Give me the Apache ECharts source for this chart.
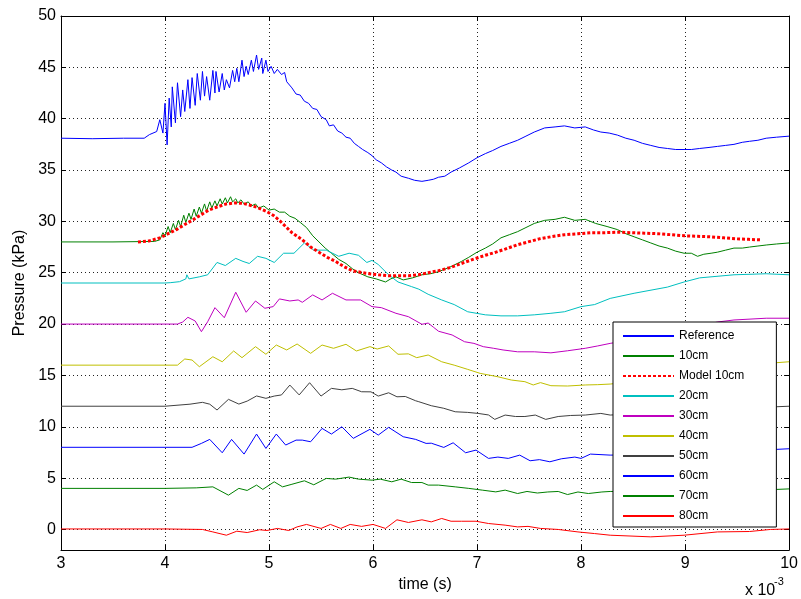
<!DOCTYPE html>
<html>
<head>
    <meta charset="utf-8" />
    <title>Pressure</title>
    <style>
        html, body { margin: 0; padding: 0; background: #fff; }
        #chart { width: 801px; height: 599px; }
    </style>
</head>
<body>
    <div id="chart"></div>
    <script src="https://cdn.jsdelivr.net/npm/echarts@6/dist/echarts.min.js"></script>
    <script>
        // time in units of 1e-3 s, pressure in kPa
        var refData = [[3.0,38.1],[3.3,38.05],[3.6,38.1],[3.8,38.1],[3.85,38.45],[3.92,38.75],[3.95,39.9],[3.98,38.6],[4.00,41.5],[4.02,37.45],[4.04,42.0],[4.06,39.2],[4.07,43.1],[4.10,39.6],[4.12,43.5],[4.15,40.2],[4.17,42.8],[4.19,40.7],[4.22,43.8],[4.24,41.0],[4.26,44.0],[4.29,41.3],[4.31,44.4],[4.34,41.8],[4.36,44.6],[4.38,42.2],[4.40,44.1],[4.43,41.8],[4.46,44.7],[4.48,42.5],[4.49,44.6],[4.52,42.6],[4.55,44.4],[4.57,42.8],[4.59,43.8],[4.62,43.0],[4.65,44.7],[4.67,43.6],[4.69,44.9],[4.71,43.6],[4.74,45.7],[4.76,44.1],[4.78,45.1],[4.80,44.3],[4.83,45.7],[4.85,44.6],[4.88,46.2],[4.90,44.8],[4.93,45.9],[4.94,44.4],[4.97,45.7],[4.99,44.6],[5.02,45.1],[5.05,44.4],[5.08,44.8],[5.12,44.3],[5.15,44.5],[5.17,43.6],[5.22,43.0],[5.26,42.4],[5.30,42.3],[5.34,41.7],[5.38,41.5],[5.42,41.0],[5.46,40.9],[5.50,40.2],[5.55,39.9],[5.58,39.3],[5.62,39.4],[5.66,38.8],[5.70,38.6],[5.74,38.2],[5.78,38.1],[5.82,37.6],[5.86,37.3],[5.90,37.0],[5.95,36.7],[5.99,36.4],[6.03,36.0],[6.08,35.7],[6.13,35.3],[6.18,35.0],[6.22,34.8],[6.27,34.4],[6.34,34.2],[6.40,34.0],[6.47,33.9],[6.53,34.0],[6.58,34.1],[6.63,34.3],[6.69,34.4],[6.75,34.8],[6.83,35.2],[6.92,35.7],[7.0,36.2],[7.08,36.6],[7.15,36.9],[7.23,37.3],[7.31,37.6],[7.39,37.9],[7.47,38.3],[7.55,38.7],[7.65,39.1],[7.75,39.2],[7.84,39.3],[7.94,39.1],[8.04,39.2],[8.12,38.9],[8.19,38.7],[8.27,38.6],[8.35,38.4],[8.43,38.1],[8.51,37.9],[8.59,37.6],[8.67,37.4],[8.75,37.2],[8.83,37.1],[8.91,37.0],[8.99,37.0],[9.06,37.0],[9.14,37.1],[9.23,37.2],[9.31,37.3],[9.39,37.4],[9.47,37.5],[9.55,37.7],[9.62,37.8],[9.70,37.9],[9.78,38.1],[9.88,38.2],[10.0,38.3]];

        var cm10Data = [[3.0,28.0],[3.5,28.0],[3.9,28.05],[3.95,28.2],[3.98,28.9],[4.00,28.6],[4.03,29.5],[4.05,28.9],[4.08,29.8],[4.10,29.2],[4.13,30.1],[4.15,29.5],[4.18,30.6],[4.20,29.9],[4.23,30.8],[4.25,30.2],[4.28,31.2],[4.30,30.5],[4.33,31.4],[4.35,30.8],[4.38,31.7],[4.40,31.0],[4.43,31.9],[4.45,31.3],[4.48,32.0],[4.50,31.5],[4.53,32.2],[4.55,31.7],[4.58,32.3],[4.60,31.8],[4.63,32.4],[4.65,31.9],[4.68,32.2],[4.70,31.8],[4.73,32.1],[4.76,31.7],[4.80,31.9],[4.83,31.5],[4.87,31.7],[4.90,31.3],[4.95,31.5],[5.00,31.1],[5.05,31.2],[5.10,30.9],[5.15,30.9],[5.20,30.5],[5.25,30.3],[5.30,29.9],[5.36,29.4],[5.42,28.6],[5.48,28.0],[5.54,27.4],[5.60,26.9],[5.67,26.3],[5.74,25.9],[5.80,25.4],[5.86,25.0],[5.95,24.6],[6.03,24.4],[6.12,24.1],[6.17,24.4],[6.22,24.6],[6.29,24.3],[6.38,24.5],[6.47,24.8],[6.55,24.9],[6.63,25.1],[6.75,25.6],[6.85,26.1],[6.92,26.5],[7.0,27.0],[7.08,27.4],[7.15,27.8],[7.23,28.4],[7.31,28.7],[7.39,29.0],[7.47,29.4],[7.55,29.8],[7.65,30.1],[7.75,30.2],[7.84,30.4],[7.94,30.1],[8.04,30.2],[8.14,29.8],[8.25,29.5],[8.35,29.2],[8.43,28.8],[8.51,28.5],[8.59,28.2],[8.67,27.9],[8.75,27.6],[8.83,27.4],[8.91,27.1],[8.99,26.9],[9.06,26.9],[9.12,26.6],[9.18,26.8],[9.25,26.9],[9.31,27.0],[9.39,27.2],[9.47,27.4],[9.55,27.4],[9.62,27.5],[9.70,27.6],[9.78,27.7],[9.88,27.8],[10.0,27.9]];

        var model10Data = [[3.74,28.0],[3.85,28.1],[3.95,28.4],[4.03,28.8],[4.11,29.2],[4.19,29.7],[4.26,30.1],[4.34,30.6],[4.42,31.1],[4.50,31.4],[4.59,31.7],[4.68,31.8],[4.75,31.75],[4.81,31.6],[4.89,31.35],[4.97,31.0],[5.04,30.6],[5.10,30.1],[5.16,29.5],[5.22,28.9],[5.32,28.2],[5.40,27.5],[5.48,27.0],[5.56,26.5],[5.64,26.1],[5.72,25.6],[5.80,25.2],[5.93,24.95],[6.05,24.8],[6.15,24.7],[6.24,24.7],[6.34,24.7],[6.44,24.8],[6.53,25.0],[6.63,25.2],[6.74,25.5],[6.85,25.9],[6.96,26.3],[7.08,26.7],[7.18,27.0],[7.27,27.3],[7.38,27.7],[7.49,28.0],[7.60,28.3],[7.71,28.5],[7.84,28.7],[7.97,28.8],[8.10,28.9],[8.23,28.9],[8.36,28.95],[8.48,28.9],[8.61,28.85],[8.74,28.8],[8.87,28.7],[8.99,28.6],[9.12,28.55],[9.24,28.5],[9.37,28.4],[9.50,28.3],[9.61,28.25],[9.72,28.2]];

        var cm20Data = [[3.0,24.0],[3.5,24.0],[4.0,24.0],[4.05,24.03],[4.14,24.13],[4.20,24.4],[4.21,24.8],[4.23,24.4],[4.33,24.6],[4.41,24.8],[4.50,26.0],[4.58,25.7],[4.68,26.4],[4.75,26.1],[4.81,25.9],[4.89,26.6],[4.97,26.4],[5.05,26.0],[5.14,26.9],[5.24,26.9],[5.34,27.9],[5.43,27.2],[5.55,27.2],[5.67,26.6],[5.77,26.9],[5.86,26.7],[5.94,26.0],[5.99,26.2],[6.05,25.8],[6.15,24.8],[6.24,24.1],[6.37,23.65],[6.44,23.4],[6.53,22.9],[6.66,22.35],[6.78,21.9],[6.91,21.2],[7.08,20.9],[7.23,20.8],[7.39,20.8],[7.55,20.9],[7.71,21.05],[7.84,21.2],[8.0,21.7],[8.13,21.9],[8.28,22.5],[8.51,23.0],[8.83,23.6],[8.99,24.1],[9.14,24.5],[9.47,24.8],[9.78,24.9],[10.0,24.8]];

        var cm30Data = [[3.0,20.0],[3.5,20.0],[4.0,20.0],[4.12,20.0],[4.17,20.2],[4.22,20.66],[4.29,20.3],[4.35,19.26],[4.41,20.23],[4.48,21.6],[4.57,20.62],[4.68,23.1],[4.78,21.15],[4.87,22.25],[4.96,21.54],[5.04,21.7],[5.10,22.45],[5.20,22.25],[5.28,22.35],[5.32,22.12],[5.42,22.84],[5.51,22.35],[5.61,23.0],[5.74,22.35],[5.88,22.35],[5.99,21.7],[6.08,21.6],[6.22,21.05],[6.34,20.72],[6.47,19.98],[6.53,20.1],[6.58,19.7],[6.63,19.3],[6.76,18.94],[6.88,18.28],[6.97,18.12],[7.06,17.8],[7.16,17.64],[7.25,17.48],[7.39,17.3],[7.55,17.3],[7.71,17.2],[7.87,17.4],[8.04,17.64],[8.16,17.87],[8.28,18.12],[8.5,18.5],[8.8,19.1],[9.1,19.7],[9.31,20.2],[9.47,20.4],[9.78,20.57],[10.0,20.57]];

        var cm40Data = [[3.0,16.0],[4.0,16.0],[4.12,16.0],[4.19,16.6],[4.26,16.5],[4.33,15.85],[4.46,16.82],[4.55,16.33],[4.66,17.38],[4.74,16.73],[4.87,17.8],[4.97,17.06],[5.07,17.96],[5.17,17.48],[5.27,18.06],[5.40,17.15],[5.51,17.96],[5.62,17.64],[5.74,18.03],[5.84,17.38],[5.97,17.8],[6.04,17.57],[6.15,17.87],[6.24,17.06],[6.34,17.1],[6.42,16.73],[6.53,16.99],[6.66,16.33],[6.78,16.0],[6.91,15.59],[7.03,15.2],[7.2,14.87],[7.33,14.55],[7.46,14.39],[7.54,14.07],[7.61,14.3],[7.71,14.0],[7.87,13.97],[8.04,14.07],[8.16,14.1],[8.28,14.16],[8.6,14.5],[9.0,15.2],[9.4,15.8],[9.88,16.24],[10.0,16.33]];

        var cm50Data = [[3.0,12.0],[4.0,12.0],[4.24,12.2],[4.36,12.38],[4.43,12.2],[4.50,11.63],[4.61,12.67],[4.71,12.21],[4.79,12.5],[4.88,13.0],[4.97,12.77],[5.05,12.99],[5.12,13.1],[5.20,14.06],[5.29,13.1],[5.39,14.29],[5.50,12.99],[5.60,13.74],[5.70,13.6],[5.80,13.74],[5.89,13.41],[5.98,13.4],[6.05,12.99],[6.15,13.31],[6.23,12.92],[6.31,12.95],[6.41,12.53],[6.44,12.44],[6.56,12.05],[6.68,11.8],[6.79,11.46],[6.91,11.4],[7.01,11.3],[7.11,11.15],[7.17,10.72],[7.27,11.14],[7.37,11.0],[7.46,11.0],[7.56,11.14],[7.66,10.72],[7.78,11.0],[7.90,11.1],[8.04,11.14],[8.19,11.3],[8.28,11.14],[8.6,11.3],[9.0,11.5],[9.5,11.8],[9.88,11.95],[10.0,12.0]];

        var cm60Data = [[3.0,8.0],[4.0,8.0],[4.26,8.0],[4.35,8.38],[4.43,8.77],[4.55,7.47],[4.64,8.77],[4.76,7.34],[4.88,9.29],[4.97,7.89],[5.07,9.29],[5.16,8.22],[5.26,8.7],[5.32,8.7],[5.40,8.54],[5.51,9.84],[5.60,9.29],[5.70,10.0],[5.81,8.87],[5.97,9.75],[6.05,9.19],[6.15,9.94],[6.29,9.03],[6.41,8.77],[6.51,8.38],[6.56,8.4],[6.68,7.99],[6.77,8.44],[6.89,7.47],[6.99,7.73],[7.11,6.92],[7.20,7.05],[7.30,6.92],[7.41,7.24],[7.51,6.69],[7.6,6.8],[7.70,6.59],[7.81,6.88],[7.94,7.05],[8.0,6.92],[8.09,7.34],[8.28,7.24],[8.6,7.3],[9.0,7.5],[9.5,7.7],[9.88,7.8],[10.0,7.86]];

        var cm70Data = [[3.0,4.0],[4.0,4.0],[4.3,4.05],[4.46,4.15],[4.61,3.34],[4.71,4.0],[4.79,3.8],[4.88,4.32],[4.94,3.9],[5.05,4.64],[5.13,4.15],[5.22,4.4],[5.34,4.74],[5.43,4.35],[5.55,4.97],[5.64,4.9],[5.77,5.1],[5.86,4.9],[5.99,4.8],[6.07,4.9],[6.18,4.64],[6.27,4.9],[6.37,4.57],[6.47,4.57],[6.53,4.32],[6.63,4.32],[6.79,4.15],[6.92,4.0],[7.05,3.83],[7.18,3.66],[7.27,3.83],[7.39,3.5],[7.48,3.7],[7.58,3.55],[7.68,3.65],[7.78,3.7],[7.87,3.4],[7.97,3.65],[8.07,3.5],[8.2,3.65],[8.28,3.7],[8.6,3.7],[9.0,3.8],[9.5,3.85],[9.88,3.9],[10.0,3.95]];

        var cm80Data = [[3.0,0.05],[4.0,0.05],[4.36,0.0],[4.46,-0.24],[4.59,-0.56],[4.69,-0.17],[4.79,-0.3],[4.91,-0.03],[4.98,-0.1],[5.08,0.1],[5.19,-0.1],[5.27,0.25],[5.36,0.49],[5.50,0.1],[5.59,0.49],[5.69,0.1],[5.78,0.49],[5.89,0.3],[6.0,0.49],[6.12,0.1],[6.23,0.94],[6.34,0.68],[6.47,0.94],[6.56,0.74],[6.66,1.07],[6.75,0.8],[6.85,0.8],[6.99,0.8],[7.11,0.58],[7.27,0.42],[7.39,0.25],[7.49,0.3],[7.61,0.1],[7.78,0.0],[7.97,-0.24],[8.13,-0.4],[8.28,-0.56],[8.67,-0.72],[8.99,-0.56],[9.31,-0.24],[9.62,-0.2],[9.82,0.0],[10.0,0.05]];

        var seriesNames = ['Reference', '10cm', 'Model 10cm', '20cm', '30cm', '40cm', '50cm', '60cm', '70cm', '80cm'];
        var seriesColors = ['#0000ff', '#008000', '#ff0000', '#00bfbf', '#bf00bf', '#bfbf00', '#404040', '#0000ff', '#008000', '#ff0000'];
        var seriesData = [refData, cm10Data, model10Data, cm20Data, cm30Data, cm40Data, cm50Data, cm60Data, cm70Data, cm80Data];
        var yTicks = [0, 5, 10, 15, 20, 25, 30, 35, 40, 45, 50];

        var font = '"Liberation Sans", Arial, Helvetica, sans-serif';
        var gridLine = { show: true, lineStyle: { color: '#222', type: [1, 3], width: 1 } };

        var series = seriesData.map(function (d, i) {
            var isModel = seriesNames[i] === 'Model 10cm';
            return {
                name: seriesNames[i],
                type: 'line',
                data: d,
                symbol: 'none',
                animation: false,
                z: isModel ? 5 : 3,
                lineStyle: {
                    color: seriesColors[i],
                    width: isModel ? 3 : 1,
                    type: isModel ? [3, 2] : 'solid'
                },
                itemStyle: { color: seriesColors[i] }
            };
        });

        var option = {
            backgroundColor: '#fff',
            animation: false,
            grid: { left: 61, right: 9, top: 16, bottom: 49 },
            legend: {
                data: seriesNames,
                orient: 'vertical',
                left: 613,
                top: 322,
                itemWidth: 51,
                itemHeight: 14,
                itemGap: 8,
                padding: [8, 32, 5, 9],
                backgroundColor: '#fff',
                borderColor: '#000',
                borderWidth: 1,
                selectedMode: false,
                itemStyle: { opacity: 0 },
                textStyle: { fontFamily: font, fontSize: 12, color: '#000' },
                z: 10
            },
            xAxis: [{
                type: 'value',
                min: 3,
                max: 10,
                interval: 1,
                name: 'time (s)',
                nameLocation: 'middle',
                nameGap: 23,
                nameTextStyle: { fontFamily: font, fontSize: 16, color: '#000' },
                axisLine: { show: true, onZero: false, lineStyle: { color: '#000' } },
                axisTick: { show: true, inside: true, length: 5, lineStyle: { color: '#000' } },
                axisLabel: { fontFamily: font, fontSize: 16, color: '#000', margin: 6 },
                splitLine: gridLine
            }, {
                type: 'value',
                min: 3,
                max: 10,
                interval: 1,
                position: 'top',
                axisLine: { show: true, onZero: false, lineStyle: { color: '#000' } },
                axisTick: { show: true, inside: true, length: 5, lineStyle: { color: '#000' } },
                axisLabel: { show: false },
                splitLine: { show: false }
            }],
            yAxis: [{
                type: 'value',
                min: -2,
                max: 50,
                name: 'Pressure (kPa)',
                nameLocation: 'middle',
                nameGap: 28,
                nameTextStyle: { fontFamily: font, fontSize: 16, color: '#000' },
                axisLine: { show: true, onZero: false, lineStyle: { color: '#000' } },
                axisTick: { show: true, inside: true, length: 5, customValues: yTicks, lineStyle: { color: '#000' } },
                axisLabel: { fontFamily: font, fontSize: 16, color: '#000', margin: 5, customValues: yTicks },
                splitLine: gridLine
            }, {
                type: 'value',
                min: -2,
                max: 50,
                position: 'right',
                axisLine: { show: true, onZero: false, lineStyle: { color: '#000' } },
                axisTick: { show: true, inside: true, length: 5, customValues: yTicks, lineStyle: { color: '#000' } },
                axisLabel: { show: false },
                splitLine: { show: false }
            }],
            graphic: [{
                type: 'text',
                left: 745,
                top: 583,
                style: { text: 'x 10', fontFamily: font, fontSize: 16, fill: '#000' }
            }, {
                type: 'text',
                left: 774,
                top: 576,
                style: { text: '-3', fontFamily: font, fontSize: 11, fill: '#000' }
            }],
            series: series
        };

        var chart = echarts.init(document.getElementById('chart'));
        chart.setOption(option);
    </script>
</body>
</html>
